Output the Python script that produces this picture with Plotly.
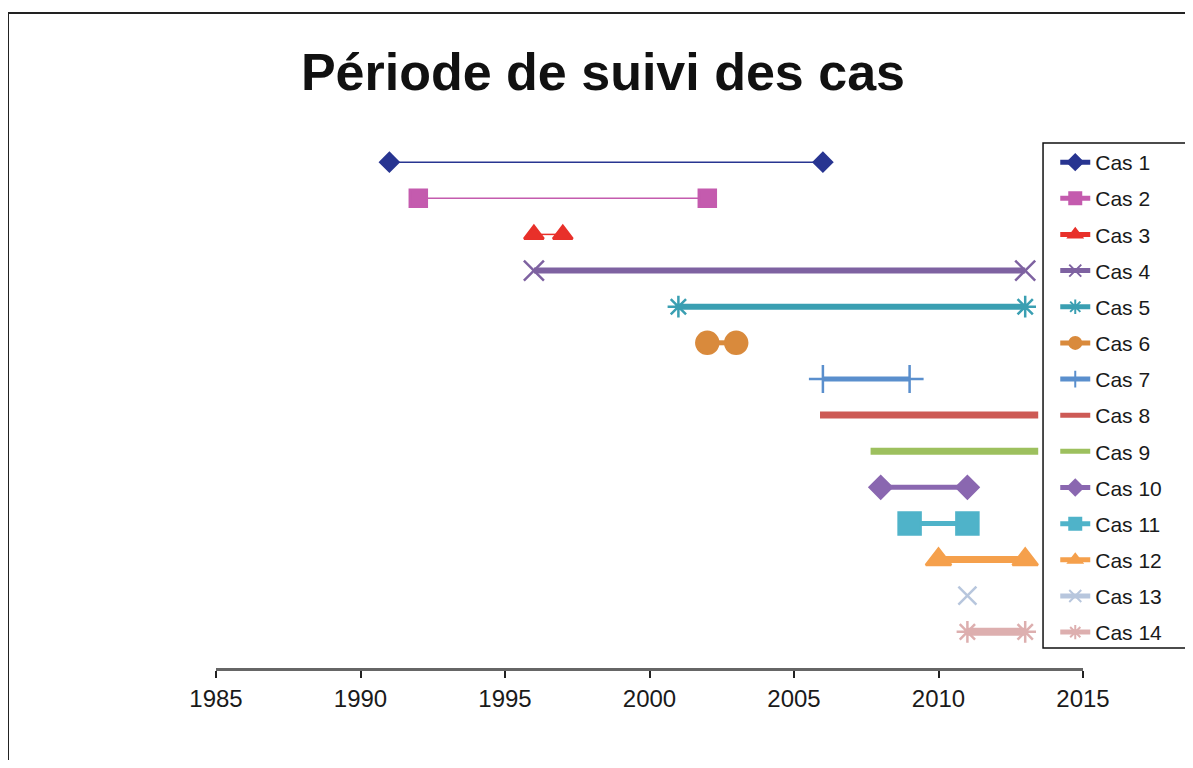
import plotly.graph_objects as go

cases = ["Cas 1", "Cas 2", "Cas 3", "Cas 4", "Cas 5", "Cas 6", "Cas 7",
         "Cas 8", "Cas 9", "Cas 10", "Cas 11", "Cas 12", "Cas 13", "Cas 14"]
start_year = [1991, 1992, 1996, 1996, 2001, 2002, 2006, 2005.9, 2007.65, 2008, 2009, 2010, 2011, 2011]
end_year = [2006, 2002, 1997, 2013, 2013, 2003, 2009, 2013.45, 2013.45, 2011, 2011, 2013, 2011, 2013]
row = list(range(1, 15))
x_ticks = [1985, 1990, 1995, 2000, 2005, 2010, 2015]

colors = ["#283591", "#C45BAE", "#E8302A", "#7E62A1", "#3A9FB2", "#D98A3C", "#5A8FCD",
          "#CD5A55", "#9DC05E", "#8A67B0", "#4FB3C9", "#F5A04C", "#B7C6DD", "#DDAFAF"]
line_w = [1.5, 1.5, 1.5, 6, 6, 5, 5, 7, 7, 5, 5, 7, 5, 8]
symbols = ["diamond", "square", "triangle-up", "x-thin-open", "asterisk-open", "circle",
           "cross-thin-open", "line-ew-open", "line-ew-open", "diamond", "square",
           "triangle-up", "x-thin-open", "asterisk-open"]
msize = [14, 17, 17, 20, 18, 22, 20, 0, 0, 17, 22, 22, 18, 18]

fig = go.Figure()
for i, name in enumerate(cases):
    xs = [start_year[i], end_year[i]] if end_year[i] != start_year[i] else [start_year[i]]
    ys = [row[i]] * len(xs)
    mode = "lines" if msize[i] == 0 else "lines+markers"
    fig.add_trace(go.Scatter(
        x=xs, y=ys, name=name, mode=mode, legendgroup=name,
        line=dict(color=colors[i], width=line_w[i]),
        marker=dict(symbol=symbols[i], size=msize[i] if msize[i] else 6, color=colors[i],
                    line=dict(color=colors[i], width=2.5)),
    ))

fig.update_layout(
    width=1177, height=752,
    margin=dict(l=208, r=102, t=118, b=92),
    paper_bgcolor="white", plot_bgcolor="white",
    font=dict(family="Liberation Sans, Arial, sans-serif", color="#1a1a1a"),
    title=dict(text="<b>Période de suivi des cas</b>", x=0.5055, y=0.9149,
               xanchor="center", yanchor="middle", font=dict(size=52, color="#111")),
    xaxis=dict(range=[1985, 2015], tickvals=x_ticks, ticks="outside", ticklen=7,
               tickwidth=1.5, tickcolor="#222", showline=True, linecolor="#666",
               linewidth=3, showgrid=False, zeroline=False,
               tickfont=dict(size=24, color="#1a1a1a")),
    yaxis=dict(range=[15, 0], visible=False, showgrid=False, zeroline=False),
    legend=dict(x=0.968, y=0.9705, xanchor="left", yanchor="top",
                borderwidth=0, bgcolor="rgba(0,0,0,0)",
                font=dict(size=21, color="#1a1a1a"), tracegroupgap=5.85,
                itemsizing="constant"),
    showlegend=True,
)
# outer chart frame
fig.add_shape(type="rect", xref="paper", yref="paper",
              x0=-0.2399, y0=-0.5, x1=1.3, y1=1.2085,
              line=dict(color="#222", width=2), layer="below")
# legend box
fig.add_shape(type="rect", xref="paper", yref="paper",
              x0=0.9539, y0=0.0369, x1=1.1211, y1=0.9686,
              line=dict(color="#111", width=1.5), fillcolor="white", layer="above")

fig.write_html("out.html")
